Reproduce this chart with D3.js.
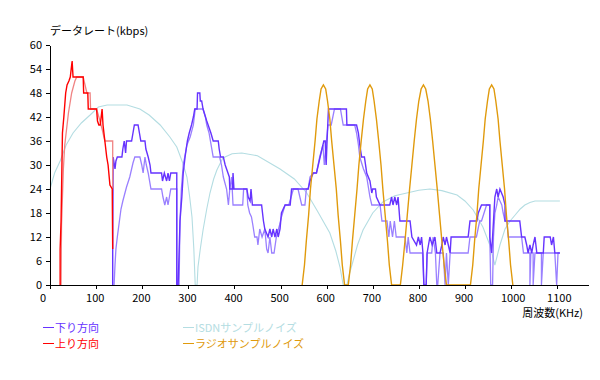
<!DOCTYPE html>
<html><head><meta charset="utf-8">
<script src="https://cdn.jsdelivr.net/npm/d3@7"></script>
<style>
html,body{margin:0;padding:0;background:#fff;}
svg{display:block;font-family:"Noto Sans CJK JP","Noto Sans",sans-serif;}
</style></head>
<body>
<svg id="c" width="600" height="380"></svg>
<script>
// ---- data (frequency kHz, rate kbps) ----
const yTicks = [0,6,12,18,24,30,36,42,48,54,60];
const xTicks = [0,100,200,300,400,500,600,700,800,900,1000,1100];
const seriesNames = ["下り方向","上り方向","ISDNサンプルノイズ","ラジオサンプルノイズ"];
const yTitle = "データレート(kbps)";
const xTitle = "周波数(KHz)";

const down = [[136,0],[136,8],[137,32],[141,29],[143,31],[146,32],[156,32],[158,34],[161,36],[164,33],[166,36],[177,36],[180,38],[183,40],[191,40],[194,38],[197,36],[206,36],[208,34],[213,32],[217,30],[219,28],[242,28],[244,26],[248,28],[253,26],[256,28],[259,26],[262,28],[275,28],[275,0],
[278,0],[282,16],[286,22],[289,28],[293,32],[298,36],[302,38],[307,40],[311,42],[314,44],[319,44],[320,48],[325,48],[326,46],[329,46],[332,44],[340,41],[349,38],[354,36],[365,36],[367,34],[370,32],[376,32],[380,30],[389,27],[390,24],[396,24],[397,28],[399,24],[427,24],[430,22],[434,21],[436,24],[439,20],[459,20],[463,16],[466,14],[473,12],[477,14],[481,12],[484,14],[488,12],[492,14],[495,12],[499,14],[502,18],[510,20],[521,20],[524,24],[560,24],[564,26],[571,28],[578,28],[586,32],[594,36],[597,36],[599,30],[601,36],[604,44],[643,44],[644,40],[665,40],[669,38],[672,35],[676,32],[682,32],[687,28],[694,26],[698,23],[700,24],[706,24],[708,22],[716,20],[737,20],[741,22],[744,20],[748,22],[752,20],[755,22],[759,16],[781,16],[785,12],[795,10],[799,12],[803,10],[806,12],[809,8],[811,0],[816,0],[818,8],[824,12],[829,10],[835,12],[839,8],[846,8],[850,10],[853,12],[857,10],[860,12],[864,10],[868,8],[870,12],[907,12],[911,16],[926,16],[929,18],[936,20],[954,20],[954,12],[958,8],[962,16],[965,22],[969,24],[972,22],[976,24],[983,22],[987,20],[987,16],[1019,16],[1023,12],[1030,12],[1034,10],[1037,8],[1041,10],[1045,8],[1048,10],[1052,12],[1056,8],[1070,8],[1072,12],[1085,12],[1088,10],[1092,12],[1095,8],[1106,8]];

const downB = [[139,0],[141,5],[143,9],[146,12],[150,15.5],[154,19],[158,21],[166,24.5],[173,27],[177,29],[180,30.5],[184,32],[195,32],[199,30],[202,28],[206,32],[209,30],[213,28],[219,24],[242,24],[245,22],[249,20],[253,22],[256,20],[259,22],[262,24],[275,24],[275,0],
[280,0],[282,16],[285,24],[289,30],[297,35],[304,37],[311,40],[315,44],[332,44],[337,42],[340,40],[345,38],[354,32],[368,32],[372,30],[376,27],[383,24],[387,20],[390,24],[394,27],[397,20],[418,20],[420,24],[427,24],[429,20],[433,18],[437,17],[440,15],[444,12],[449,12],[451,10],[455,14],[460,12],[466,14],[470,9],[473,8],[477,12],[481,8],[486,8],[491,12],[498,15],[502,17],[510,20],[518,20],[528,24],[538,24],[542,22],[546,20],[553,20],[556,24],[560,24],[564,27],[571,28],[578,28],[585,32],[592,35],[595,30],[598,34],[603,40],[610,40],[617,44],[630,44],[636,40],[661,40],[665,38],[669,35],[672,32],[680,29],[687,27],[694,22],[698,20],[716,20],[720,16],[731,16],[735,12],[738,16],[743,12],[747,16],[751,12],[770,12],[774,8],[777,12],[781,8],[808,8],[811,0],[816,0],[818,8],[828,8],[831,12],[836,8],[839,0],[841,0],[846,8],[853,8],[857,0],[860,8],[864,0],[868,8],[907,8],[911,12],[925,12],[932,16],[936,16],[947,20],[954,20],[954,12],[956,0],[960,0],[962,12],[965,18],[969,20],[972,22],[976,21],[980,20],[983,18],[987,16],[991,16],[994,12],[1023,12],[1027,8],[1041,8],[1041,0],[1043,8],[1048,8],[1048,0],[1052,8],[1066,8],[1066,0],[1070,8],[1095,8],[1099,0],[1102,8],[1106,8]];

const up = [[22,0],[22,9],[24,16],[27,38],[30,42],[34,48],[37,50],[41,51],[44,52],[47,55],[48,56],[50,52],[72,52],[73,48],[82,48],[83,44],[101,44],[103,41],[106,40],[109,40],[111,42],[113,44],[115,40],[119,36],[123,32],[126,30],[130,25],[135,24],[136,9]];

const upB = [[24,0],[25,15],[29,29],[32,35],[40,43],[47,48],[54,51],[58,52],[72,52],[76,50],[80,48],[87,48],[88,44],[101,44],[106,42],[113,39],[119,36],[136,36],[136,24]];

const isdn = [[0,24],[10,28],[22,31],[35,35],[50,38],[68,40.5],[87,42.5],[105,44.5],[124,45],[145,45],[167,45],[195,44],[215,42.5],[239,40],[260,37],[275,34.5],[288,30.5],[297,27],[303,22],[308,17],[312,9],[315,0],[319,0],[321,4.5],[326,9],[332,13.75],[340,19],[347,23],[355,26.5],[362,28.75],[375,31.75],[395,32.8],[416,33],[450,32.3],[499,29],[530,26.5],[557,23],[580,18.5],[607,13],[620,8.5],[629,4.5],[636,0],[644,0],[650,3],[655,5],[667,10],[679,13.75],[700,18],[722,20.75],[748,22.3],[774,23],[800,23.7],[824,24],[850,23.6],[883,22.5],[900,21],[918,18.75],[939,14.5],[954,10],[965,5],[976,10],[987,14],[998,16],[1009,17.5],[1020,19],[1030,20],[1041,20.6],[1052,21],[1106,21]];

const radio = [[547,0],[552,5],[556,11],[561,17.5],[565,24],[570,30],[575,36],[579,41.5],[584,46],[588,49],[593,50],[598,49],[602,46],[607,41.5],[611,36],[616,30],[621,24],[625,17.5],[630,11],[634,5],[639,0],
[647,0],[652,5],[656,11],[661,17.5],[666,24],[670,30],[675,36],[680,41.5],[685,46],[689,49],[694,50],[699,49],[703,46],[708,41.5],[713,36],[718,30],[722,24],[727,17.5],[732,11],[736,5],[741,0],
[760,0],[765,5],[770,11],[775,17.5],[780,24],[785,30],[790,36],[795,41.5],[800,46],[805,49],[810,50],[815,49],[820,46],[825,41.5],[830,36],[835,30],[840,24],[845,17.5],[850,11],[855,5],[860,0],
[912,0],[917,5],[921,11],[926,17.5],[930,24],[935,30],[940,36],[944,41.5],[949,46],[953,49],[958,50],[963,49],[967,46],[972,41.5],[976,36],[981,30],[986,24],[990,17.5],[995,11],[999,5],[1004,0]];

// ---- drawing ----
const svg = d3.select("#c");
const x = d3.scaleLinear().domain([0,1167]).range([50,588]);
const y = d3.scaleLinear().domain([0,60]).range([285,45]);
const line = d3.line().x(d=>x(d[0])).y(d=>y(d[1]));

const layers = [
  {data:isdn,  color:"#b4dde2", w:1.1},
  {data:downB, color:"#9a80ff", w:1.3},
  {data:down,  color:"#6633ff", w:1.4},
  {data:radio, color:"#e09a0c", w:1.4},
  {data:upB,   color:"#f08484", w:1.3},
  {data:up,    color:"#ff0000", w:1.4}
];
svg.append("g").selectAll("path").data(layers).join("path")
  .attr("d",d=>line(d.data)).attr("fill","none")
  .attr("stroke",d=>d.color).attr("stroke-width",d=>d.w)
  .attr("stroke-linejoin","miter");

const fs = "11px";
const gy = svg.append("g").attr("transform","translate(50,0)")
  .call(d3.axisLeft(y).tickValues(yTicks).tickFormat(d3.format("d")).tickSize(4).tickSizeOuter(0).tickPadding(4));
const gx = svg.append("g").attr("transform","translate(0,285)")
  .call(d3.axisBottom(x).tickValues(xTicks).tickFormat(d3.format("d")).tickSize(4).tickSizeOuter(0).tickPadding(5));
[gx,gy].forEach(g=>{
  g.select(".domain").attr("stroke","#000");
  g.selectAll("line").attr("stroke","#000");
  g.selectAll("text").attr("fill","#000").style("font-size",fs).style("font-family",'"Noto Sans CJK JP",sans-serif');
  g.attr("shape-rendering","crispEdges");
});
gx.selectAll(".tick text").attr("text-anchor","start").attr("x",-10.5);

svg.append("text").attr("x",50).attr("y",35).style("font-size",fs).attr("fill","#000").text(yTitle);
svg.append("text").attr("x",583).attr("y",317).attr("text-anchor","end").style("font-size",fs).attr("fill","#000").text(xTitle);

const legendColors = ["#6633ff","#ff0000","#b4dde2","#e09a0c"];
const legendPos = [[43,332],[43,348],[183,332],[183,348]];
seriesNames.forEach((n,i)=>{
  const [lx,ly] = legendPos[i];
  const g = svg.append("g");
  g.append("line").attr("x1",lx).attr("x2",lx+11).attr("y1",ly-4.5).attr("y2",ly-4.5)
    .attr("stroke",legendColors[i]).attr("stroke-width",1.2).attr("shape-rendering","crispEdges");
  g.append("text").attr("x",lx+12).attr("y",ly).style("font-size",fs).attr("fill",legendColors[i]).text(n);
});
</script>
</body></html>
